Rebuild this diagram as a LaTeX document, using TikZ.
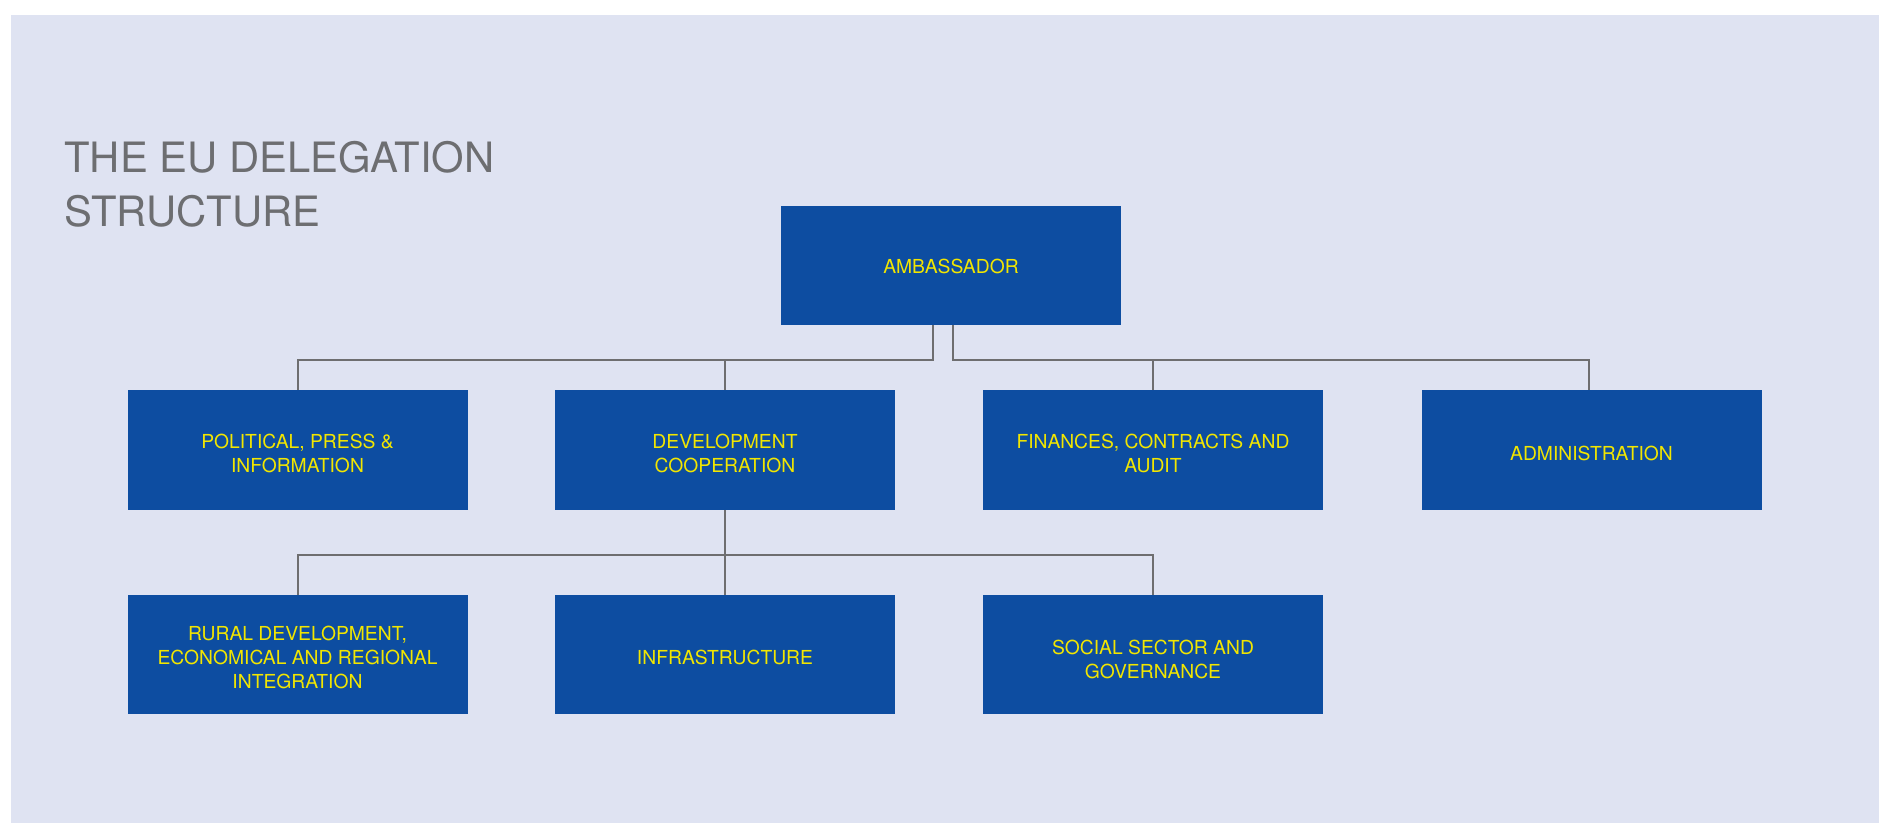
\documentclass[tikz,border=0pt]{standalone}
\usepackage{fontspec}
\setmainfont{TeX Gyre Heros}
\usetikzlibrary{calc}
\definecolor{bgblue}{HTML}{DFE3F2}
\definecolor{boxblue}{HTML}{0D4DA1}
\definecolor{labelyellow}{HTML}{F2E600}
\definecolor{linegray}{HTML}{6E6E70}
\definecolor{titlegray}{HTML}{6D6E71}
\tikzset{
	% One box style for every unit, one line style for the links
	unit box/.style={rectangle,fill=boxblue,minimum width=170pt,minimum height=59.5pt,inner sep=0pt},
	unit text/.style={inner sep=0pt,yshift=-1.5pt,align=center,text=labelyellow,font=\fontsize{9.65}{12}\selectfont},
	link/.style={draw=linegray,line width=1pt},
	title text/.style={anchor=base west,inner sep=0pt,text=titlegray,font=\fontsize{20.9}{27}\selectfont}
}
\begin{document}
\begin{tikzpicture}[x=0.5pt,y=-0.5pt]
	% macro for placing a unit box with its name
	\newcommand{\orgbox}[4][]{\node(#2)[unit box,label={[unit text,#1]center:{#4}}]at(#3){};}
	% page and panel
	\fill[white] (0,0) rectangle (1879,823);
	\fill[bgblue] (11,15) rectangle (1879,823);
	
	\node(title-1)[title text] at (64,172.7) {THE EU DELEGATION};
	\node(title-2)[title text] at (64,226.7) {STRUCTURE};
	
	\orgbox[yshift=1.2pt]{0}{951,265.4}{AMBASSADOR}
	\orgbox{0-1}{297.5,450}{POLITICAL, PRESS \&\\INFORMATION}
	\orgbox{0-2}{725,450}{DEVELOPMENT\\COOPERATION}
	\orgbox{0-3}{1153,450}{FINANCES, CONTRACTS AND\\AUDIT}
	\orgbox{0-4}{1591.5,450}{ADMINISTRATION}
	\orgbox{0-2-1}{297.5,654.5}{RURAL DEVELOPMENT,\\ECONOMICAL AND REGIONAL\\INTEGRATION}
	\orgbox{0-2-2}{725,654.5}{INFRASTRUCTURE}
	\orgbox[yshift=-1.2pt]{0-2-3}{1153,654.5}{SOCIAL SECTOR AND\\GOVERNANCE}
	
	% the two horizontal buses, and the drop into the administration box
	\coordinate(bus-1) at (0,360);
	\coordinate(bus-2) at (0,555);
	\coordinate(drop-4) at ([xshift=-1.25pt]0-4.north);
	
	\draw[link] ([xshift=-9pt]0.south) |- (bus-1 -| 0-1.north) -- (0-1.north);
	\draw[link] (0-2.north) -- (0-2.north |- bus-1);
	\draw[link] ([xshift=1pt]0.south) |- (bus-1 -| drop-4) -- (drop-4);
	\draw[link] (0-3.north) -- (0-3.north |- bus-1);
	
	\draw[link] (0-2.south) -- (0-2-2.north);
	\draw[link] (0-2-1.north) |- (bus-2 -| 0-2-3.north) -- (0-2-3.north);
\end{tikzpicture}
\end{document}
